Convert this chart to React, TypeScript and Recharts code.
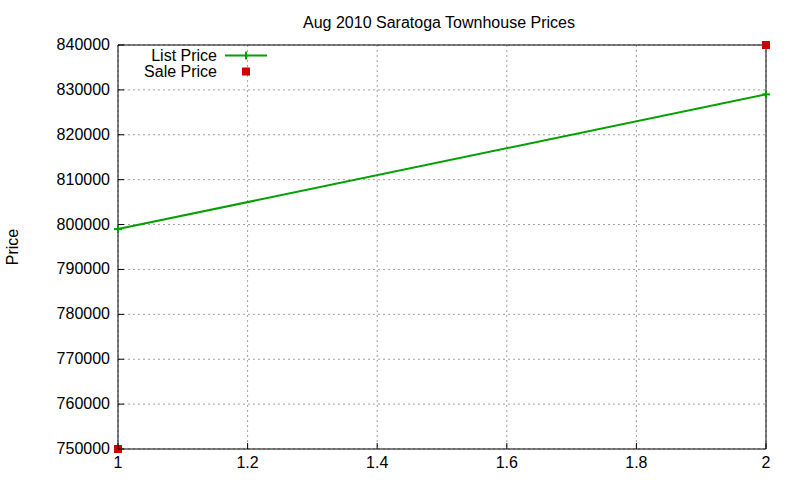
import React from "react"
import { LineChart, Line, XAxis, YAxis, CartesianGrid, Legend } from "recharts"

const xValues = [1, 2]
const listPrice = [799000, 829000]
const salePrice = [750000, 840000]
const xTicks = [1, 1.2, 1.4, 1.6, 1.8, 2]
const yTicks = [750000, 760000, 770000, 780000, 790000, 800000, 810000, 820000, 830000, 840000]
const seriesNames = ["List Price", "Sale Price"]

const data = xValues.map((x, i) => ({ x, list: listPrice[i], sale: salePrice[i] }))

const FONT = '"Liberation Sans", Arial, sans-serif'
const GREEN = "#00a000"
const RED = "#cc0000"

// left axis: label + inward tick
// eslint-disable-next-line @typescript-eslint/no-explicit-any
const YTick = ({ x, y, payload }: any) => (
  <g>
    <line x1={x} y1={y} x2={x + 6} y2={y} stroke="#000" />
    <text x={x - 8} y={y + 5} textAnchor="end" fontSize={16} fontFamily={FONT} fill="#000">
      {payload.value}
    </text>
  </g>
)

// eslint-disable-next-line @typescript-eslint/no-explicit-any
const XTick = ({ x, y, payload }: any) => (
  <g>
    <line x1={x} y1={y} x2={x} y2={y - 6} stroke="#000" />
    <text x={x} y={y + 19} textAnchor="middle" fontSize={16} fontFamily={FONT} fill="#000">
      {payload.value}
    </text>
  </g>
)

// eslint-disable-next-line @typescript-eslint/no-explicit-any
const PlusDot = ({ cx, cy, index }: any) => (
  <g key={`plus-${index}`}>
    <line x1={cx - 4} y1={cy} x2={cx + 4} y2={cy} stroke={GREEN} strokeWidth={2} />
    <line x1={cx} y1={cy - 4} x2={cx} y2={cy + 4} stroke={GREEN} strokeWidth={2} />
  </g>
)

// eslint-disable-next-line @typescript-eslint/no-explicit-any
const SquareDot = ({ cx, cy, index }: any) => (
  <rect key={`sq-${index}`} x={cx - 4} y={cy - 4} width={8} height={8} fill={RED} />
)

const LegendBox = () => (
  <svg width={180} height={40} style={{ display: "block" }}>
    <text x={117} y={20.5} textAnchor="end" fontSize={16} fontFamily={FONT} fill="#000">
      {seriesNames[0]}
    </text>
    <line x1={125} y1={15.5} x2={167} y2={15.5} stroke={GREEN} strokeWidth={2} />
    <line x1={146} y1={11.5} x2={146} y2={19.5} stroke={GREEN} strokeWidth={2} />
    <text x={117} y={36.5} textAnchor="end" fontSize={16} fontFamily={FONT} fill="#000">
      {seriesNames[1]}
    </text>
    <rect x={142} y={27.5} width={8} height={8} fill={RED} />
  </svg>
)

export default function App() {
  return (
    <div style={{ position: "absolute", left: 0, top: 0, width: 800, height: 480, background: "#fff" }}>
      <LineChart width={800} height={480} data={data} margin={{ top: 44, right: 33, bottom: 0, left: 0 }}>
        <CartesianGrid stroke="#a0a0a0" strokeDasharray="2 3" />
        <XAxis
          dataKey="x"
          type="number"
          domain={[1, 2]}
          ticks={xTicks}
          height={31}
          tickSize={0}
          tickMargin={0}
          tickLine={false}
          stroke="#000"
          tick={<XTick />}
        />
        <YAxis
          type="number"
          domain={[750000, 840000]}
          ticks={yTicks}
          width={118}
          tickSize={0}
          tickMargin={0}
          tickLine={false}
          stroke="#000"
          tick={<YTick />}
        />
        <XAxis
          xAxisId="top"
          orientation="top"
          type="number"
          domain={[1, 2]}
          ticks={xTicks}
          height={1}
          tickSize={-6}
          tick={false}
          stroke="#000"
          allowDataOverflow
        />
        <YAxis
          yAxisId="right"
          orientation="right"
          type="number"
          domain={[750000, 840000]}
          ticks={yTicks}
          width={1}
          tickSize={-6}
          tick={false}
          stroke="#000"
          allowDataOverflow
        />
        <Legend
          layout="vertical"
          align="center"
          verticalAlign="middle"
          wrapperStyle={{ left: 100, top: 40, width: 180 }}
          content={<LegendBox />}
        />
        <Line
          dataKey="list"
          name={seriesNames[0]}
          stroke={GREEN}
          strokeWidth={2}
          dot={PlusDot}
          activeDot={false}
          isAnimationActive={false}
        />
        <Line
          dataKey="sale"
          name={seriesNames[1]}
          stroke="none"
          dot={SquareDot}
          activeDot={false}
          isAnimationActive={false}
        />
      </LineChart>
      <svg width={800} height={480} style={{ position: "absolute", left: 0, top: 0, pointerEvents: "none" }}>
        <text x={439} y={28} textAnchor="middle" fontSize={16} fontFamily={FONT} fill="#000">
          Aug 2010 Saratoga Townhouse Prices
        </text>
        <text transform="translate(18,247) rotate(-90)" textAnchor="middle" fontSize={16} fontFamily={FONT} fill="#000">
          Price
        </text>
      </svg>
    </div>
  )
}
